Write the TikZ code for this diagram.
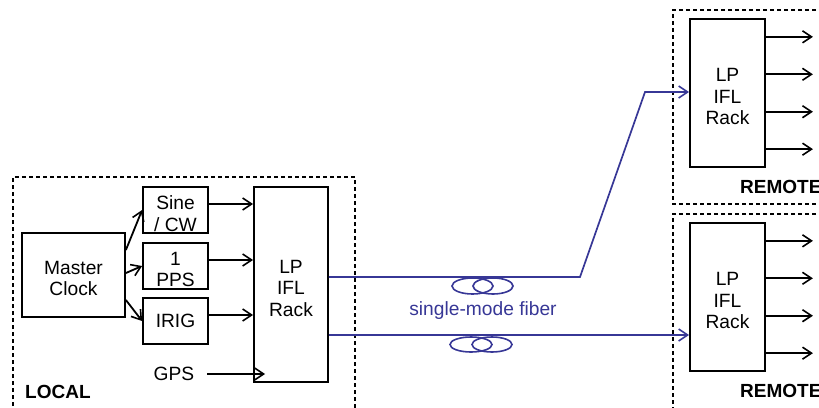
\documentclass[tikz,border=0pt]{standalone}
\usepackage{fontspec}
\setmainfont{Liberation Sans}
\usetikzlibrary{arrows.meta,calc}
\definecolor{fib}{RGB}{55,55,150}
\begin{document}
\begin{tikzpicture}[x=1pt,y=-1pt,
  every node/.style={font=\fontsize{19.2}{22}\selectfont},
  blk/.style={draw,line width=1.8pt,inner sep=0pt,align=center},
  txt/.style={label={[align=center,yshift=-3.5pt,font=\fontsize{19.2}{21.5}\selectfont]center:#1}},
  zone/.style={draw,line width=1.4pt,dash pattern=on 4pt off 3pt},
  arr/.style={line width=1.8pt,-{Straight Barb[length=9pt,width=12pt,line width=1.6pt]}},
  farr/.style={fib,line width=1.7pt,-{Straight Barb[length=9pt,width=12pt,line width=1.6pt]}},
  coil/.style={fib,line width=1.6pt},
  lbl/.style={font=\fontsize{19}{22}\selectfont\bfseries,inner sep=0pt}]
\useasboundingbox (0,0) rectangle (819,407);
% zones
\draw[zone] (13,420) -- (13,177) -- (355,177) -- (355,420);
\draw[zone] (830,10) -- (673,10) -- (673,204) -- (830,204);
\draw[zone] (830,214) -- (673,214) -- (673,420);
% local blocks
\node[blk,minimum width=103pt,minimum height=84pt,txt={Master\\Clock}] (mc) at (73.5,275) {};
\node[blk,minimum width=65pt,minimum height=46pt,txt={Sine\\/ CW}] (sine) at (175.5,210) {};
\node[blk,minimum width=65pt,minimum height=46pt,txt={1\\PPS}] (pps) at (175.5,266) {};
\node[blk,minimum width=65pt,minimum height=46pt] (irig) at (175.5,321) {IRIG};
\node[inner sep=1pt] (gps) at (174,374) {GPS};
\node[blk,minimum width=74pt,minimum height=195pt,txt={LP\\IFL\\Rack}] (rack) at (291,284.5) {};
\node[lbl,anchor=base west] (local) at (25,398) {LOCAL};
% remote blocks
\node[blk,minimum width=75pt,minimum height=148pt,txt={LP\\IFL\\Rack}] (rr1) at (727.5,93) {};
\node[blk,minimum width=75pt,minimum height=148pt,txt={LP\\IFL\\Rack}] (rr2) at (727.5,297) {};
\node[lbl,anchor=base west] (rem1) at (740,193) {REMOTE};
\node[lbl,anchor=base west] (rem2) at (740,397) {REMOTE};
% master clock arrows
\draw[arr] ([yshift=25pt]mc.east) -- (sine.west);
\draw[arr] ([yshift=2pt]mc.east) -- (pps.west);
\draw[arr] ([yshift=-25pt]mc.east) -- (irig.west);
% into local rack
\draw[arr] ([yshift=6pt]sine.east) -- ([yshift=6pt]sine.east -| rack.west);
\draw[arr] ([yshift=6pt]pps.east) -- ([yshift=6pt]pps.east -| rack.west);
\draw[arr] ([yshift=6pt]irig.east) -- ([yshift=6pt]irig.east -| rack.west);
\draw[arr] ([xshift=12pt]gps.east) -- ([xshift=12pt]gps.east -| rack.west);
% remote outputs
\foreach \r in {rr1,rr2}{
  \foreach \f/\n in {0.125/a,0.375/b,0.625/c,0.875/d}{
    \coordinate (\r o\n) at ($(\r.north east)!\f!(\r.south east)$);
    \coordinate (\r e\n) at ([xshift=47pt]\r o\n);
    \draw[arr] (\r o\n) -- (\r e\n);
  }
}
% fibers
\coordinate (k1) at (580,277);
\coordinate (k2) at (645,92);
\draw[farr] (rack.east |- k1) -- (k1) -- (k2) -- (rr1.west |- k2);
\coordinate (f2) at (328,335);
\draw[farr] (rack.east |- f2) -- (rr2.west |- f2);
% coils
\draw[coil] (472.5,286) ellipse [x radius=20.5pt,y radius=8pt];
\draw[coil] (493,286) ellipse [x radius=20pt,y radius=8pt];
\draw[coil] (471,344.5) ellipse [x radius=21pt,y radius=7.5pt];
\draw[coil] (492,344.5) ellipse [x radius=20pt,y radius=7.5pt];
\node[text=fib] (smf) at (483,311) {single-mode fiber};
\end{tikzpicture}
\end{document}
